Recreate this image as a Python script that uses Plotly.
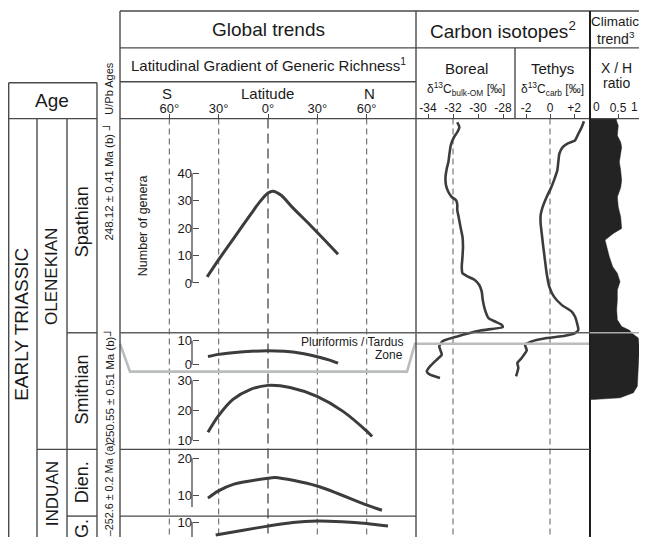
import plotly.graph_objects as go

# The page body has an 8px default margin; the figure is sized so the page does not overflow.
PAGE_W, PAGE_H = 647, 546
OFF = 8
W, H = PAGE_W - OFF, PAGE_H - 2 * OFF
FONT = "Liberation Sans, Arial, Helvetica, sans-serif"

# ---------------- data ----------------
lat_ticks = [-60, -30, 0, 30, 60]
lat_ticktext = ["60°", "30°", "0°", "30°", "60°"]

# Latitudinal gradient of generic richness (latitude deg, number of genera)
spath_lat = [-37, -30, -20, -10, -5, 0, 3, 8, 15, 25, 35, 42.6]
spath_gen = [2.2, 8.5, 17, 25.5, 29.6, 32.8, 33.5, 32, 27.5, 21.5, 15.3, 10.5]
pluri_lat = [-36.5, -30, -20, -10, 0, 10, 20, 30, 37, 42.6]
pluri_gen = [3.4, 4.3, 5.1, 5.6, 5.8, 5.6, 4.8, 3.3, 2.0, 0.6]
smith_lat = [-36.5, -30.4, -21.3, -10.9, 0, 13.4, 29.8, 45.6, 60.2, 63.3]
smith_gen = [12.7, 18, 23.7, 27, 28.4, 27.7, 24.7, 19.7, 13, 11.3]
dien_lat = [-36.5, -30.4, -20.7, 0, 4.3, 29.8, 60.2, 69.3]
dien_gen = [9.2, 11.1, 13.0, 14.6, 14.8, 12.5, 7.3, 5.9]
gries_lat = [-31.8, -15, 0, 15, 30, 45, 60, 73]
gries_gen = [6.5, 7.8, 8.9, 9.9, 10.3, 10.1, 9.6, 8.9]

# Carbon isotopes (relative stratigraphic position from top, delta13C permil)
boreal_pos = [3.7, 8.7, 13.7, 18.7, 27, 37, 43.7, 50.3, 58.7, 67, 73.7, 78.7, 82, 86, 92,
              98.7, 108.7, 118.7, 128.7, 138.7, 148.7, 155.3, 158.7, 162, 167, 173.7, 182,
              192, 200.3, 203.7, 207, 209.3, 212.7, 218.7, 223.7, 228.7, 237, 243.7,
              248.7, 253.7, 257, 260.3]
boreal_d13c = [-31.66, -31.49, -31.66, -31.92, -32.18, -32.3, -32.37, -32.5, -32.6, -32.56,
               -32.37, -32.1, -31.76, -31.66, -31.66, -31.55, -31.4, -31.24, -31.2, -31.24,
               -31.3, -31.24, -30.8, -30.26, -29.9, -29.7, -29.62, -29.44, -29.16, -28.64,
               -28.1, -28.02, -29.8, -31.66, -32.86, -33.1, -32.9, -33.44, -33.84, -34.1,
               -33.84, -33.04]
tethys_pos = [2.7, 8.7, 15.3, 22, 24.7, 28.7, 35.3, 43.7, 52, 62, 70.3, 78.7, 88.7, 97, 105.3,
              115.3, 128.7, 142, 155.3, 168.7, 178.7, 187, 193.7, 198.7, 203.7, 212, 215.3,
              218, 220.3, 223.7, 227, 232.7, 240.3, 245.3, 250.3, 258.7]
tethys_d13c = [2.83, 2.64, 2.36, 2.08, 1.53, 1.06, 0.78, 0.69, 0.61, 0.33, 0.06, -0.28, -0.61,
               -0.78, -0.78, -0.69, -0.56, -0.42, -0.28, -0.06, 0.33, 0.97, 1.81, 2.08, 2.22,
               2.36, 2.08, 1.25, -0.28, -1.53, -2.08, -1.94, -2.36, -2.72, -2.64, -2.83]

# Climatic trend: X / H ratio
xh_pos = [0, 2.7, 7, 17, 23.7, 28.7, 35.3, 43.7, 52, 62, 69.3, 78.7, 88.7, 98.7, 110.3, 115.3,
          122, 128.7, 138.7, 148.7, 155.3, 163.7, 172, 182, 192, 202, 208.7, 212.7, 215.3,
          220.3, 232, 248.7, 268.7, 275.3, 280.3, 282]
xh_ratio = [0.47, 0.476, 0.505, 0.488, 0.548, 0.565, 0.548, 0.524, 0.548, 0.565, 0.548, 0.488,
            0.505, 0.548, 0.565, 0.417, 0.268, 0.298, 0.345, 0.405, 0.488, 0.536, 0.488, 0.488,
            0.476, 0.488, 0.565, 0.714, 0.744, 0.863, 0.881, 0.863, 0.845, 0.774, 0.536, 0.05]

boreal_ticks = [-34, -32, -30, -28]
tethys_ticks = [-2, 0, 2]
tethys_ticktext = ["-2", "0", "+2"]
xh_ticks = [0, 0.5, 1]
xh_ticktext = ["0", "0.5", "1"]

BOTTOM = OFF + H  # last page pixel row covered by the figure

# ---------------- helpers (pixel layout, page coordinates) ----------------
def X(px):
    return (px - OFF) / W


def Y(py):
    return 1 - (py - OFF) / H


def y_range(v1, p1, v2, p2, top, bot):
    s = (p1 - p2) / (v2 - v1)
    return [v1 + (p1 - bot) / s, v1 + (p1 - top) / s]


def x_range(v1, p1, v2, p2, left, right):
    s = (p2 - p1) / (v2 - v1)
    return [v1 + (left - p1) / s, v1 + (right - p1) / s]


LINE = "#4a4a4a"
CURVE = "#3c3c3c"
TXT = "#1a1a1a"

fig = go.Figure()

# ---- global trend panels ----
AXX = 192  # bracket axis position
panels = [
    ("Spathian", spath_lat, spath_gen, "y", (0, 283, 40, 173), (118, 333), [0, 10, 20, 30, 40], (0, 40)),
    ("Pluriformis", pluri_lat, pluri_gen, "y2", (0, 365, 10, 341), (333, 372), [0, 10], (0, 10)),
    ("Smithian", smith_lat, smith_gen, "y3", (10, 441, 30, 381), (372, 450), [10, 20, 30], (10, 30)),
    ("Dienerian", dien_lat, dien_gen, "y4", (10, 496, 20, 459), (450, 517), [10, 20], (6.76, 20)),
    ("Griesbachian", gries_lat, gries_gen, "y5", (10, 523, 20, 486), (517, BOTTOM), [10], (0, 10)),
]

layout_axes = {}
shapes = []

for name, lats, gens, yref, (v1, p1, v2, p2), (top, bot), ticks, (b0, b1) in panels:
    fig.add_trace(go.Scatter(x=lats, y=gens, mode="lines", xaxis="x", yaxis=yref,
                             line=dict(color=CURVE, width=3, shape="spline", smoothing=0.8),
                             hoverinfo="skip", showlegend=False, name=name))
    key = "yaxis" if yref == "y" else "yaxis" + yref[1:]
    layout_axes[key] = dict(
        domain=[max(0, Y(bot)), Y(top)], range=y_range(v1, p1, v2, p2, top, bot),
        anchor="free", position=X(AXX), side="left",
        showline=False, showgrid=False, zeroline=False,
        ticks="inside", ticklen=6, tickwidth=1.3, tickcolor=LINE,
        tickvals=ticks, tickfont=dict(size=13, color=TXT, family=FONT), fixedrange=True,
    )
    shapes.append(dict(type="line", xref="paper", yref=yref, x0=X(AXX), x1=X(AXX), y0=b0, y1=b1,
                       line=dict(color=LINE, width=1.3)))

layout_axes["xaxis"] = dict(
    domain=[X(120), X(416)], range=[-90, 90], anchor="free", position=Y(118), side="top",
    showline=False, showgrid=False, zeroline=False, ticks="outside", ticklen=5, tickwidth=1.2,
    tickcolor=LINE, tickvals=lat_ticks, ticktext=lat_ticktext, ticklabelstandoff=-5,
    tickfont=dict(size=13, color=TXT, family=FONT), fixedrange=True,
)

# ---- carbon isotopes & climatic ----
layout_axes["yaxis6"] = dict(domain=[0, Y(118)], range=[BOTTOM - 118, 0], anchor="free",
                             position=X(416), visible=False, fixedrange=True)
common_top = dict(anchor="free", position=Y(118), side="top", showline=False, showgrid=False,
                  zeroline=False, ticks="outside", ticklen=5, tickwidth=1.2, tickcolor=LINE,
                  ticklabelstandoff=-3, tickfont=dict(size=12, color=TXT, family=FONT),
                  fixedrange=True)
layout_axes["xaxis2"] = dict(domain=[X(416), X(515)], range=x_range(-34, 428, -28, 503, 416, 515),
                             tickvals=boreal_ticks, ticktext=[str(v) for v in boreal_ticks],
                             **common_top)
layout_axes["xaxis3"] = dict(domain=[X(515), X(590)], range=x_range(-2, 526, 2, 574, 515, 590),
                             tickvals=tethys_ticks, ticktext=tethys_ticktext, **common_top)
# only the middle tick is labelled by the axis; the end labels are placed as annotations below
layout_axes["xaxis4"] = dict(domain=[X(590), 1], range=x_range(0, 590, 1, 646, 590, 647),
                             tickvals=xh_ticks[1:2], ticktext=xh_ticktext[1:2], **common_top)

fig.add_trace(go.Scatter(x=[0] + xh_ratio + [0], y=[xh_pos[0]] + xh_pos + [xh_pos[-1]],
                         mode="lines", fill="toself", fillcolor="#222322",
                         line=dict(color="#222322", width=0.5), xaxis="x4", yaxis="y6",
                         hoverinfo="skip", showlegend=False))
fig.add_trace(go.Scatter(x=boreal_d13c, y=boreal_pos, mode="lines", xaxis="x2", yaxis="y6",
                         line=dict(color=CURVE, width=2.6, shape="spline", smoothing=0.5),
                         hoverinfo="skip", showlegend=False))
fig.add_trace(go.Scatter(x=tethys_d13c, y=tethys_pos, mode="lines", xaxis="x3", yaxis="y6",
                         line=dict(color=CURVE, width=2.6, shape="spline", smoothing=0.5),
                         hoverinfo="skip", showlegend=False))

# dashed reference lines
for v in lat_ticks:
    shapes.append(dict(type="line", xref="x", yref="paper", x0=v, x1=v, y0=Y(118), y1=0,
                       layer="below",
                       line=dict(color="#6a6a6a", width=1.6 if v == 0 else 1.1,
                                 dash="10px,5px" if v == 0 else "6px,4px")))
shapes.append(dict(type="line", xref="x2", yref="paper", x0=-32, x1=-32, y0=Y(118), y1=0,
                   layer="below", line=dict(color="#777", width=1.2, dash="6px,4px")))
shapes.append(dict(type="line", xref="x3", yref="paper", x0=0, x1=0, y0=Y(118), y1=0,
                   layer="below", line=dict(color="#777", width=1.2, dash="6px,4px")))


def seg(x0, y0, x1, y1, color=LINE, width=1.4):
    shapes.append(dict(type="line", xref="paper", yref="paper", x0=X(x0), y0=Y(y0),
                       x1=X(x1), y1=Y(y1), line=dict(color=color, width=width)))


# zone line (Pluriformis / Tardus)
shapes.append(dict(type="path", xref="paper", yref="paper",
                   path=f"M {X(120)} {Y(344)} L {X(130)} {Y(372)} L {X(407)} {Y(372)} "
                        f"L {X(415)} {Y(344)} L {X(590)} {Y(344)}",
                   line=dict(color="#b9bdbc", width=2.6)))

# header frame
seg(120, 10, 647, 10)
seg(120, 47, 647, 47)
seg(120, 81, 416, 81)
seg(120, 118, 647, 118)
seg(120, 10, 120, BOTTOM)
seg(416, 10, 416, BOTTOM)
seg(515, 47, 515, 118)
seg(590, 10, 590, BOTTOM, color="#1e1e1e", width=2)
# age box
seg(8.7, 82, 97, 82)
seg(8.7, 118, 97, 118)
seg(8.7, 82, 8.7, BOTTOM)
seg(97, 82, 97, BOTTOM)
seg(37, 118, 37, BOTTOM)
seg(67, 118, 67, BOTTOM)
seg(67, 333, 97, 333)
seg(37, 450, 97, 450)
seg(67, 517, 97, 517)
# body boundaries
seg(120, 333, 590, 333, color="#606060")
seg(590, 333, 647, 333, color="#a8aaa8", width=1.6)
seg(120, 450, 590, 450)
seg(120, 517, 416, 517)

# ---------------- text ----------------
ann = []


def text(s, x, y, size, angle=0, xanchor="center", yanchor="middle"):
    ann.append(dict(text=s, x=X(x), y=Y(y), xref="paper", yref="paper", showarrow=False,
                    textangle=angle, xanchor=xanchor, yanchor=yanchor,
                    font=dict(size=size, color=TXT, family=FONT)))


text("Global trends", 268, 29, 19)
text("Carbon isotopes<sup>2</sup>", 503, 29, 19)
text("Climatic", 615, 21, 13.5)
text("trend<sup>3</sup>", 616, 37, 14)
text("Latitudinal Gradient of Generic Richness<sup>1</sup>", 268, 64, 15)
text("S", 167, 93, 15)
text("Latitude", 267, 93, 15)
text("N", 369, 93, 15)
text("Boreal", 466, 68, 15)
text("δ<sup>13</sup>C<sub>bulk-OM</sub> [‰]", 466, 88, 12)
text("Tethys", 552, 68, 15)
text("δ<sup>13</sup>C<sub>carb</sub> [‰]", 552, 88, 12)
text("X / H", 616, 67, 14)
text("ratio", 616, 82, 14)
text(xh_ticktext[0], 591, 106, 12, xanchor="left")
text(xh_ticktext[2], 640, 106, 12, xanchor="right")
text("Age", 52, 100, 19)
text("U/Pb Ages", 109, 88, 11, angle=-90)

text("EARLY TRIASSIC", 22, 325, 19, angle=-90)
text("OLENEKIAN", 52, 277, 17, angle=-90)
text("INDUAN", 52, 495, 17, angle=-90)
text("Spathian", 82, 222, 18, angle=-90)
text("Smithian", 82, 390, 18, angle=-90)
text("Dien.", 82, 483, 18, angle=-90)
text("G.", 82, 530, 18, angle=-90)

text("248.12 ± 0.41 Ma (b) ┘", 109, 120, 11.5, angle=-90, yanchor="top")
text("250.55 ± 0.51 Ma (b)┘", 109, 327, 11.5, angle=-90, yanchor="top")
text("–252.6 ± 0.2 Ma (a)", 109, 441, 10.8, angle=-90, yanchor="top")

text("Number of genera", 143, 226, 12.5, angle=-90)
text("Pluriformis / Tardus", 405, 342, 12, xanchor="right")
text("Zone", 405, 355, 12, xanchor="right")

fig.update_layout(
    width=W, height=H, autosize=False,
    margin=dict(l=0, r=0, t=0, b=0, pad=0),
    paper_bgcolor="white", plot_bgcolor="white",
    font=dict(family=FONT, color=TXT),
    showlegend=False,
    shapes=shapes, annotations=ann,
    **layout_axes,
)

fig.write_html("out.html")
